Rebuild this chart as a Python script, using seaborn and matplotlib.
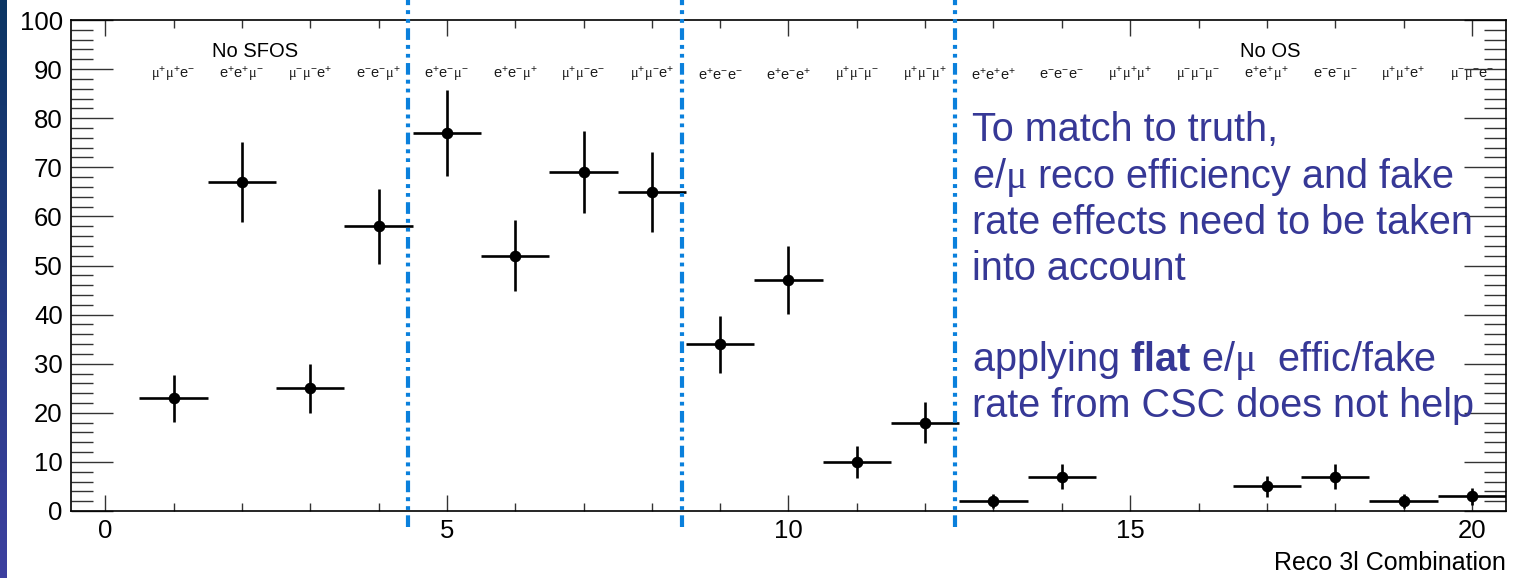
import numpy as np
import pandas as pd
import matplotlib
matplotlib.use("Agg")
import matplotlib.pyplot as plt
import seaborn as sns
from matplotlib.ticker import MultipleLocator
from matplotlib.colors import LinearSegmentedColormap

# ---------------- data ----------------
bins = [1, 2, 3, 4, 5, 6, 7, 8, 9, 10, 11, 12, 13, 14, 15, 16, 17, 18, 19, 20]
counts = [23, 67, 25, 58, 77, 52, 69, 65, 34, 47, 10, 18, 2, 7, 0, 0, 5, 7, 2, 3]
errors = [4.8, 8.2, 5.0, 7.6, 8.8, 7.2, 8.3, 8.1, 5.8, 6.9, 3.2, 4.2, 1.4, 2.6, 0, 0, 2.2, 2.6, 1.4, 1.7]

combo_labels = [
    r"$\mathsf{\mu}^{+}\mathsf{\mu}^{+}\mathrm{e}^{-}$",
    r"$\mathrm{e}^{+}\mathrm{e}^{+}\mathsf{\mu}^{-}$",
    r"$\mathsf{\mu}^{-}\mathsf{\mu}^{-}\mathrm{e}^{+}$",
    r"$\mathrm{e}^{-}\mathrm{e}^{-}\mathsf{\mu}^{+}$",
    r"$\mathrm{e}^{+}\mathrm{e}^{-}\mathsf{\mu}^{-}$",
    r"$\mathrm{e}^{+}\mathrm{e}^{-}\mathsf{\mu}^{+}$",
    r"$\mathsf{\mu}^{+}\mathsf{\mu}^{-}\mathrm{e}^{-}$",
    r"$\mathsf{\mu}^{+}\mathsf{\mu}^{-}\mathrm{e}^{+}$",
    r"$\mathrm{e}^{+}\mathrm{e}^{-}\mathrm{e}^{-}$",
    r"$\mathrm{e}^{+}\mathrm{e}^{-}\mathrm{e}^{+}$",
    r"$\mathsf{\mu}^{+}\mathsf{\mu}^{-}\mathsf{\mu}^{-}$",
    r"$\mathsf{\mu}^{+}\mathsf{\mu}^{-}\mathsf{\mu}^{+}$",
    r"$\mathrm{e}^{+}\mathrm{e}^{+}\mathrm{e}^{+}$",
    r"$\mathrm{e}^{-}\mathrm{e}^{-}\mathrm{e}^{-}$",
    r"$\mathsf{\mu}^{+}\mathsf{\mu}^{+}\mathsf{\mu}^{+}$",
    r"$\mathsf{\mu}^{-}\mathsf{\mu}^{-}\mathsf{\mu}^{-}$",
    r"$\mathrm{e}^{+}\mathrm{e}^{+}\mathsf{\mu}^{+}$",
    r"$\mathrm{e}^{-}\mathrm{e}^{-}\mathsf{\mu}^{-}$",
    r"$\mathsf{\mu}^{+}\mathsf{\mu}^{+}\mathrm{e}^{+}$",
    r"$\mathsf{\mu}^{-}\mathsf{\mu}^{-}\mathrm{e}^{-}$",
]
group_labels = ["No SFOS", "No OS"]
group_x = [2.2, 17.05]
separators = [4.43, 8.44, 12.44]
xlabel = "Reco 3l Combination"
note_lines = [
    "To match to truth,",
    r"e/$\mathsf{\mu}$ reco efficiency and fake",
    "rate effects need to be taken",
    "into account",
    r"applying $\mathbf{flat}$ e/$\mathsf{\mu}$  effic/fake",
    "rate from CSC does not help",
]
note_baselines_px = [141, 188, 234, 280, 371, 417]

# ---------------- style ----------------
sns.set_theme(style="white")
plt.rcParams["font.family"] = ["Liberation Sans", "DejaVu Sans"]
plt.rcParams["mathtext.fontset"] = "custom"
plt.rcParams["mathtext.rm"] = "Liberation Sans"
plt.rcParams["mathtext.it"] = "Liberation Sans:italic"
plt.rcParams["mathtext.bf"] = "Liberation Sans:bold"
plt.rcParams["mathtext.sf"] = "Liberation Serif"

W, H = 1515, 578
fig = plt.figure(figsize=(W / 100, H / 100), dpi=100)
fig.patch.set_facecolor("white")

# slide edge strip
strip = fig.add_axes([0, 0, 7 / W, 1])
cmap = LinearSegmentedColormap.from_list("slide", ["#0b3563", "#3d40a0"])
strip.imshow(np.linspace(0, 1, 256).reshape(-1, 1), aspect="auto", cmap=cmap)
strip.set_axis_off()

ax = fig.add_axes([71 / W, 1 - 511 / H, (1506 - 71) / W, (511 - 20) / H])
ax.set_facecolor("white")

df = pd.DataFrame({"bin": bins, "count": counts, "err": errors})
df = df[df["count"] > 0]

ax.errorbar(df["bin"], df["count"], xerr=0.5, yerr=df["err"], fmt="none",
            ecolor="black", elinewidth=1.9, capsize=0, zorder=2)
sns.scatterplot(data=df, x="bin", y="count", ax=ax, color="black", s=70,
                edgecolor="black", linewidth=0, zorder=3, legend=False)

ax.set_xlim(-0.5, 20.5)
ax.set_ylim(0, 100)

for xs in separators:
    ax.axvline(xs, ymin=-0.033, ymax=1.045, clip_on=False, color="#0a80dc",
               lw=3, dashes=(2.8, 1.3, 0.9, 1.2, 0.95, 1.2), zorder=4)

for i, lab in enumerate(combo_labels):
    ax.text(bins[i], 88.8, lab, ha="center", va="center", fontsize=10.5, color="#1a1a1a")
for gx, gl in zip(group_x, group_labels):
    ax.text(gx, 93.6, gl, ha="center", va="center", fontsize=14.5, color="black")

ax.xaxis.set_major_locator(MultipleLocator(5))
ax.xaxis.set_minor_locator(MultipleLocator(1))
ax.yaxis.set_major_locator(MultipleLocator(10))
ax.yaxis.set_minor_locator(MultipleLocator(2))
ax.tick_params(which="both", direction="in", top=True, right=True, bottom=True,
               left=True, color="#333333", width=1, labelcolor="black")
ax.tick_params(axis="x", which="major", length=11.5, labelsize=18.5, pad=6)
ax.tick_params(axis="x", which="minor", length=5.8)
ax.tick_params(axis="y", which="major", length=30, labelsize=18.5, pad=6)
ax.tick_params(axis="y", which="minor", length=15.8)
for sp in ax.spines.values():
    sp.set_color("black")
    sp.set_linewidth(1.2)

ax.set_xlabel(xlabel, fontsize=18, color="black", ha="right", va="baseline")
ax.xaxis.set_label_coords(1.0, -(570 - 511) / (511 - 20))
ax.set_ylabel("")

for line, yb in zip(note_lines, note_baselines_px):
    fig.text(972 / W, 1 - yb / H, line, ha="left", va="baseline", fontsize=28.5,
             color="#363896", zorder=10)

fig.savefig("out.png", dpi=100)
